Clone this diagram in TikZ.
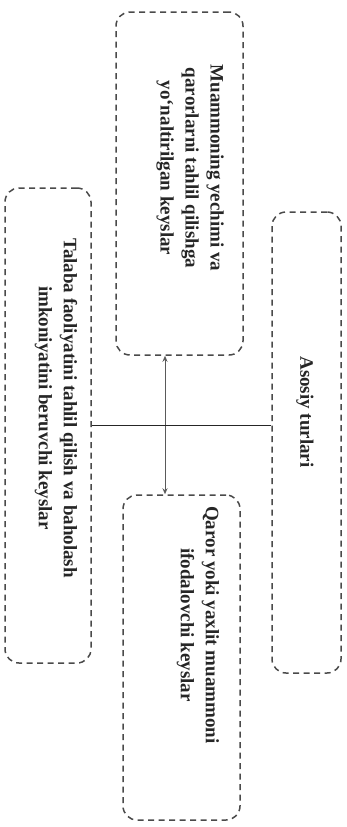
\documentclass[tikz,border=0pt]{standalone}
\usepackage{fontspec}
\setmainfont{Liberation Serif}
\usetikzlibrary{arrows.meta}
\definecolor{boxgray}{HTML}{4A4A4A}
\definecolor{txtgray}{HTML}{262626}
\definecolor{linegray}{HTML}{5A5A5A}
\begin{document}
\begin{tikzpicture}[x=1pt,y=-1pt,
  box/.style={draw=boxgray, dash pattern=on 6pt off 4.5pt, line width=1.5pt, rounded corners=14pt, inner sep=0pt},
  lbl/.style={rotate=-90, align=center, font=\bfseries\fontsize{19}{25}\selectfont, text=txtgray, inner sep=0pt},
  conn/.style={draw=linegray, line width=1pt},
  hline/.style={draw=txtgray, line width=1.5pt}]
\useasboundingbox[fill=white] (0,0) rectangle (346,827);
\node[box, minimum width=127pt, minimum height=343pt] (T) at (179.5,183.5) {};
\node[box, minimum width=86pt, minimum height=475pt] (L) at (48,425.5) {};
\node[box, minimum width=69pt, minimum height=461pt] (R) at (306.5,442.5) {};
\node[box, minimum width=117pt, minimum height=325pt] (B) at (181.5,657.5) {};
\node[lbl] (TT) at (190,168) {Muammoning yechimi va\\qarorlarni tahlil qilishga\\yo‘naltirilgan keyslar};
\node[lbl] (LT) at (56,408) {Talaba faoliyatini tahlil qilish va baholash\\imkoniyatini beruvchi keyslar};
\node[lbl] (RT) at (305,412) {Asosiy turlari};
\node[lbl] (BT) at (198,625) {Qaror yoki yaxlit muammoni\\ifodalovchi keyslar};
\coordinate (vx) at (165,0);
\draw[conn, {Stealth[length=6pt,width=5pt]}-{Stealth[length=6pt,width=5pt]}] (T.south -| vx) -- (B.north -| vx);
\draw[hline] (L.east) -- (R.west |- L.east);
\end{tikzpicture}
\end{document}
